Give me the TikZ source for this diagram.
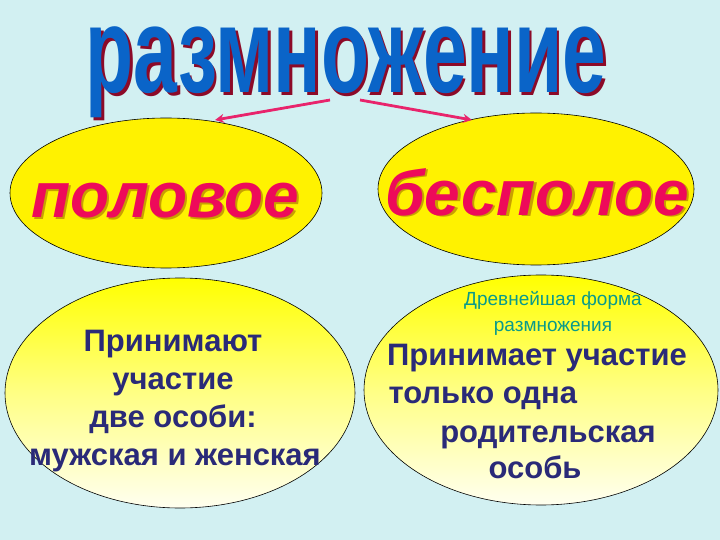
\documentclass[tikz,border=0pt]{standalone}
\usepackage{fontspec}
\setmainfont{Liberation Sans}
\usepackage{graphicx}
\definecolor{bgc}{HTML}{D2F0F2}
\definecolor{titleblue}{HTML}{0A64C8}
\definecolor{titleshadow}{HTML}{8C0A28}
\definecolor{arrowred}{HTML}{E8246C}
\definecolor{headred}{HTML}{EE0A5A}
\definecolor{headshadow}{HTML}{C8A000}
\definecolor{navy}{HTML}{2A2A78}
\definecolor{teal}{HTML}{0A9A8A}
\definecolor{paleyellow}{HTML}{FFFFF0}
\tikzset{
  hellipse/.style={ellipse, draw=black, line width=0.6pt, fill=yellow},
  arr/.style={draw=arrowred, line width=2.8pt, -{Stealth[length=9pt,width=9pt]}},
  headtxt/.style={font=\fontsize{64}{64}\selectfont\bfseries\itshape, text=headred},
  headsh/.style={font=\fontsize{64}{64}\selectfont\bfseries\itshape, text=headshadow},
  bodytxt/.style={font=\fontsize{31}{38}\selectfont\bfseries, text=navy, align=center},
  titletxt/.style={font=\fontsize{122}{122}\selectfont\bfseries},
}
\usetikzlibrary{shapes.geometric,arrows.meta}
\begin{document}
\begin{tikzpicture}[x=1pt,y=-1pt]
\fill[bgc] (0,0) rectangle (720,540);
\useasboundingbox (0,0) rectangle (720,540);
% title
\node[titletxt, anchor=base, text=titleshadow] at (348.5,95.5) {\scalebox{0.645}[1]{размножение}};
\node[titletxt, anchor=base, text=titleblue] (title) at (346,93) {\scalebox{0.645}[1]{размножение}};
% top ellipses
\path[hellipse] (166,193) ellipse [x radius=156, y radius=75];
\path[hellipse] (536,189) ellipse [x radius=158, y radius=76];
\coordinate (tl) at (215,120);
\coordinate (tr) at (472,120);
\coordinate (sl) at (330,100);
\coordinate (sr) at (360,100);
\draw[arr] (sl) -- (tl);
\draw[arr] (sr) -- (tr);
\node[headsh, anchor=base] at (167.5,219.5) {половое};
\node[headtxt, anchor=base] (pol) at (165,218) {половое};
\node[headsh, anchor=base] at (539.5,216.5) {бесполое};
\node[headtxt, anchor=base] (bes) at (537,215) {бесполое};
% bottom ellipses
\shade[top color=yellow, bottom color=paleyellow, middle color=yellow!45!paleyellow, draw=black, line width=0.6pt] (180,393) ellipse [x radius=175, y radius=115];
\shade[top color=yellow, bottom color=paleyellow, middle color=yellow!45!paleyellow, draw=black, line width=0.6pt] (541,390) ellipse [x radius=177, y radius=115];
\node[bodytxt, anchor=base] (l1) at (173,351) {Принимают};
\node[bodytxt, anchor=base] (l2) at (173,389) {участие};
\node[bodytxt, anchor=base] (l3) at (173,427) {две особи:};
\node[bodytxt, anchor=base] (l4) at (175,465) {мужская и женская};
\node[font=\fontsize{19}{26}\selectfont, text=teal, align=center] (anc) at (553,313) {Древнейшая форма\\размножения};
\node[bodytxt, anchor=base] (r1) at (537,365) {Принимает участие};
\node[bodytxt, anchor=base west] (r2) at (385,403) {только одна};
\node[bodytxt, anchor=base] (r3) at (548,442) {родительская};
\node[bodytxt, anchor=base] (r4) at (535,478) {особь};
\end{tikzpicture}
\end{document}
